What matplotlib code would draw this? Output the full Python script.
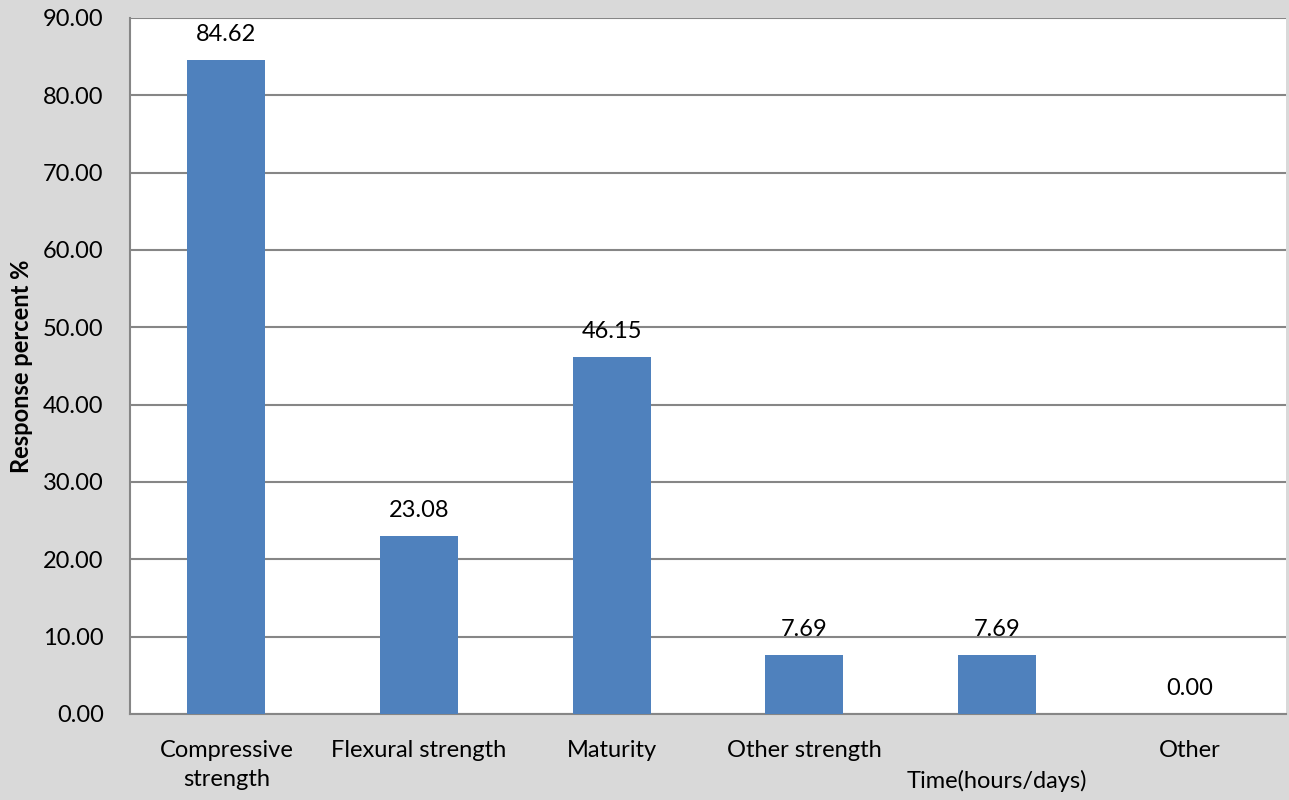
import numpy as np
import matplotlib.pyplot as plt

categories = ["Compressive\nstrength", "Flexural strength", "Maturity",
              "Other strength", "\nTime(hours/days)", "Other"]
values = [84.62, 23.08, 46.15, 7.69, 7.69, 0.00]
yticks = [0, 10, 20, 30, 40, 50, 60, 70, 80, 90]

plt.rcParams['font.family'] = ['Lato', 'DejaVu Sans']

fig = plt.figure(figsize=(12.89, 8.0), dpi=100)
fig.patch.set_facecolor('#d9d9d9')
ax = fig.add_axes([0.1009, 0.1075, 0.8968, 0.87])
ax.set_facecolor('white')

x = np.arange(len(categories))
bars = ax.bar(x, values, width=0.405, color='#4f81bd', zorder=3)

for xi, v in zip(x, values):
    ax.text(xi, v + 1.9, "%.2f" % v, ha='center', va='bottom', fontsize=17, color='black')

ax.set_xlim(-0.5, len(categories) - 0.5)
ax.set_ylim(0, 90)
ax.set_yticks(yticks)
ax.set_yticklabels(["%.2f" % t for t in yticks], fontsize=17)
ax.set_xticks(x)
ax.set_xticklabels(categories, fontsize=17, linespacing=1.45)
ax.tick_params(axis='both', length=0)
ax.tick_params(axis='y', pad=19)
ax.tick_params(axis='x', pad=19)
ax.yaxis.grid(True, color='#868686', linewidth=1.5, zorder=0)

for s in ['top', 'right']:
    ax.spines[s].set_visible(False)
for s in ['left', 'bottom']:
    ax.spines[s].set_color('#868686')
    ax.spines[s].set_linewidth(1.5)

ax.set_ylabel('Response percent %', fontsize=17, fontweight='bold', labelpad=7)

fig.savefig('out.png', dpi=100, facecolor=fig.get_facecolor())
